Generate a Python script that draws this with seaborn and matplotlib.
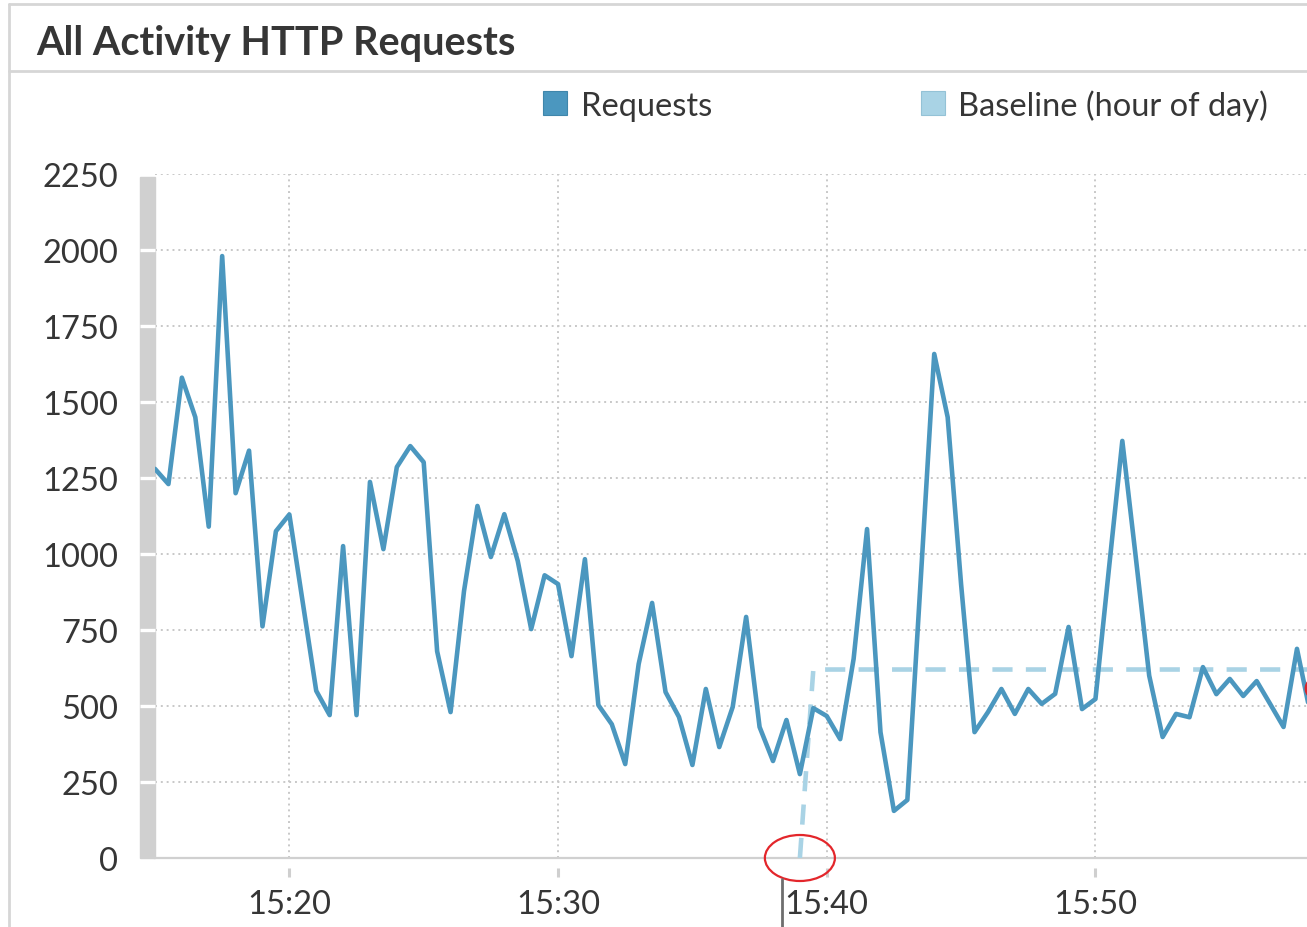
import pandas as pd
import numpy as np
import matplotlib
matplotlib.use("Agg")
import matplotlib.pyplot as plt
import matplotlib.dates as mdates
from matplotlib.patches import Rectangle, Ellipse, Patch
from matplotlib.lines import Line2D
import seaborn as sns

# data: 30 second buckets starting at 15:15
start_time = "2024-01-01 15:15:00"
requests = [1280, 1230, 1580, 1450, 1090, 1980, 1200, 1340, 762, 1075,
            1130, 840, 550, 470, 1026, 470, 1237, 1016, 1286, 1355,
            1302, 680, 480, 878, 1158, 990, 1131, 977, 753, 930,
            901, 664, 983, 503, 440, 309, 638, 839, 546, 464,
            306, 556, 365, 497, 793, 431, 319, 454, 276, 493,
            467, 391, 655, 1082, 414, 155, 191, 920, 1658, 1450,
            900, 414, 480, 556, 474, 556, 507, 540, 760, 490,
            523, 950, 1372, 990, 600, 398, 474, 463, 628, 539,
            589, 533, 582, 507, 431, 688, 474]
# baseline only exists from 15:39 onwards
baseline_start = 48
baseline_values = [0] + [620] * (len(requests) - baseline_start - 1)
alert_values = [560]

y_ticks = [0, 250, 500, 750, 1000, 1250, 1500, 1750, 2000, 2250]
x_tick_labels = ["15:20", "15:30", "15:40", "15:50"]

times = pd.date_range(start_time, periods=len(requests), freq="30s")
baseline = [np.nan] * baseline_start + baseline_values
df = pd.DataFrame({"time": times, "requests": requests, "baseline": baseline})

line_color = "#4b97bf"
base_color = "#a9d3e5"
text_color = "#363636"
grid_color = "#c8c8c8"

sns.set_style("white")
plt.rcParams["font.family"] = ["Lato", "DejaVu Sans"]

W, H = 1307, 928
fig = plt.figure(figsize=(W / 100, H / 100), dpi=100)
ax = fig.add_axes([155 / W, 1 - 859 / H, (W - 155) / W, (859 - 175) / H])

sns.lineplot(data=df, x="time", y="requests", ax=ax, color=line_color,
             linewidth=3.3, estimator=None, zorder=5)
sns.lineplot(data=df.dropna(), x="time", y="baseline", ax=ax, color=base_color,
             linewidth=3.3, estimator=None, linestyle=(0, (4.4, 2.9)), zorder=4)

# red alert marker clipped at right edge
ax.scatter([times[-1] + pd.Timedelta(seconds=12)], alert_values, s=260,
           color="#d7262b", marker="o", zorder=6)

x_ticks = [pd.Timestamp("2024-01-01 " + t) for t in x_tick_labels]
ax.set_xlim(times[0], times[0] + pd.Timedelta(minutes=(W - 155) / 26.87))
ax.set_ylim(0, 2250)
ax.set_xticks(x_ticks)
ax.xaxis.set_major_formatter(mdates.DateFormatter("%H:%M"))
ax.set_yticks(y_ticks)
ax.set_xlabel("")
ax.set_ylabel("")

ax.grid(True, linestyle=(0, (1, 2)), color=grid_color, linewidth=1.4)
ax.set_axisbelow(True)
for s in ["top", "right", "left"]:
    ax.spines[s].set_visible(False)
ax.spines["bottom"].set_color("#d0d0d0")
ax.spines["bottom"].set_linewidth(1.6)

ax.tick_params(axis="y", length=23, width=2.4, color="#cfcfcf", pad=3.5,
               labelsize=23.5, labelcolor=text_color)
ax.tick_params(axis="x", length=0, pad=22, labelsize=23.5, labelcolor=text_color)

# gray bar next to the y axis, with white notches at the ticks
trans = ax.get_yaxis_transform()
bar_w = 15 / (W - 155)
ax.add_patch(Rectangle((-bar_w, 0), bar_w, 2240, transform=trans,
                       color="#d0d0d0", clip_on=False, zorder=3))
ax.hlines(y_ticks[1:-1], -bar_w, 0, transform=trans, color="white",
          linewidth=2.4, clip_on=False, zorder=3.5)

# small x tick marks below the axis
xtrans = ax.get_xaxis_transform()
ax.vlines(x_ticks, -10 / 684, -19 / 684, transform=xtrans, color="#cfcfcf",
          linewidth=2.2, clip_on=False)

# red ellipse around where the baseline starts
ax.add_patch(Ellipse((mdates.date2num(times[baseline_start]), 0),
                     width=70 / 26.87 / 1440, height=46 / 0.304,
                     fill=False, edgecolor="#e3262b", linewidth=1.6,
                     clip_on=False, zorder=7))

# panel frame and title
frame_color = "#d6d6d6"
fig.add_artist(Line2D([9 / W, 9 / W], [0, 1 - 5 / H], color=frame_color, linewidth=2))
fig.add_artist(Line2D([9 / W, 1], [1 - 5 / H, 1 - 5 / H], color=frame_color, linewidth=2))
fig.add_artist(Line2D([9 / W, 1], [1 - 72 / H, 1 - 72 / H], color=frame_color, linewidth=2))
fig.add_artist(Line2D([782 / W, 782 / W], [0, 1 - 880 / H], color="#6e6e6e", linewidth=2))
fig.text(36 / W, 1 - 43 / H, "All Activity HTTP Requests", fontsize=28.5,
         fontweight="bold", color=text_color, va="center", ha="left")

handles = [Patch(facecolor=line_color, edgecolor="#3f86ab", linewidth=0.8),
           Patch(facecolor=base_color, edgecolor="#94c2d6", linewidth=0.8)]
fig.legend(handles, ["Requests", "Baseline (hour of day)"], loc="center left",
           bbox_to_anchor=(543 / W, 1 - 106 / H), ncol=2, frameon=False,
           fontsize=23.5, handlelength=0.75, handleheight=0.75, handletextpad=0.4,
           columnspacing=6.4, borderpad=0, borderaxespad=0, labelcolor=text_color)

fig.savefig("out.png", dpi=100)
